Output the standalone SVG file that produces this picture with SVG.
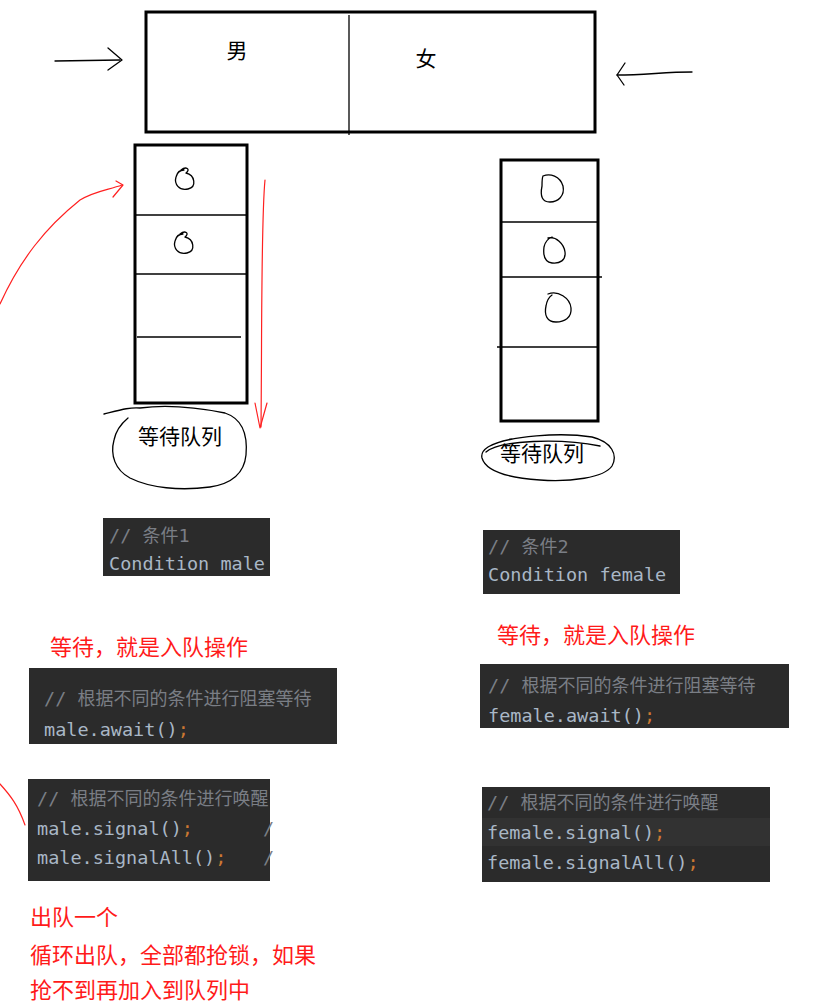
<svg xmlns="http://www.w3.org/2000/svg" width="826" height="1008" viewBox="0 0 826 1008">
<defs>
<style>
.box{fill:#fff;stroke:#000;stroke-width:3}
.thin{fill:none;stroke:#000;stroke-width:1.3;stroke-linecap:round;stroke-linejoin:round}
.red{fill:none;stroke:#ff2020;stroke-width:1.2;stroke-linecap:round;stroke-linejoin:round}
.lbl{font-family:"Noto Sans CJK SC","Microsoft YaHei",sans-serif;font-size:21px;fill:#000}
.rt{font-family:"Noto Sans CJK SC",sans-serif;font-size:22px;fill:#ff1a1a}
.code{fill:#2b2b2b}
.mono{font-family:"DejaVu Sans Mono","Noto Sans CJK SC",monospace;font-size:18.5px;fill:#a9b7c6}
.cm{fill:#7a7e85}
.cj{font-family:"Noto Sans CJK SC",sans-serif;font-size:18px}
.semi{fill:#cc7832}
</style>
</defs>
<rect width="826" height="1008" fill="#fff"/>

<g id="gender-box">
<rect class="box" x="146" y="12" width="449" height="120"/>
<line x1="349" y1="15" x2="349" y2="135" stroke="#000" stroke-width="1.3"/>
<text class="lbl" x="237" y="58" text-anchor="middle">男</text>
<text class="lbl" x="426" y="66" text-anchor="middle">女</text>
</g>

<g id="male-queue">
<rect class="box" x="135" y="145" width="112" height="258"/>
<line x1="135" y1="215" x2="247" y2="215" stroke="#000" stroke-width="1.3"/>
<line x1="135" y1="274" x2="247" y2="274" stroke="#000" stroke-width="1.3"/>
<line x1="137" y1="337" x2="241" y2="337" stroke="#000" stroke-width="1.3"/>
<path class="thin" d="M181,170 C186,166 191,169 186,173 C195,175 197,187 188,189 C179,191 174,184 176,177 C177,173 180,170 184,170"/>
<path class="thin" d="M180,234 C185,230 190,233 185,237 C194,239 196,251 187,253 C178,255 173,248 175,241 C176,237 179,234 183,234"/>
<path class="thin" d="M104,414 C120,410 130,407 140,408 C170,404 200,408 225,413 C240,418 248,432 246,455 C244,475 230,484 210,487 C180,491 150,488 130,478 C115,470 110,455 114,440 C116,430 122,423 128,418"/>
<text class="lbl" x="180" y="444" text-anchor="middle">等待队列</text>
</g>

<g id="female-queue">
<rect class="box" x="501" y="160" width="97" height="261"/>
<line x1="501" y1="222" x2="598" y2="222" stroke="#000" stroke-width="1.3"/>
<line x1="501" y1="277" x2="602" y2="277" stroke="#000" stroke-width="1.3"/>
<line x1="497" y1="347" x2="598" y2="347" stroke="#000" stroke-width="1.3"/>
<path class="thin" d="M543,176 C550,173 560,176 563,186 C565,196 558,202 550,202 C542,202 540,196 542,186 C542,181 542,178 543,176"/>
<path class="thin" d="M548,238 C556,236 564,244 565,252 C566,260 560,264 552,263 C545,262 543,255 544,247 C545,242 547,239 552,237"/>
<path class="thin" d="M548,294 C558,290 570,298 571,308 C572,318 564,322 556,322 C547,322 544,315 546,306 C547,300 549,297 552,295"/>
<path class="thin" d="M490,446 C510,436 560,432 592,437 C612,442 618,455 612,466 C604,478 570,482 540,480 C510,478 486,472 482,458 C480,450 490,443 512,439"/>
<path class="thin" d="M486,452 C500,440 560,438 600,446"/>
<text class="lbl" x="542" y="461" text-anchor="middle">等待队列</text>
</g>

<g id="connectors">
<path class="thin" d="M55,61 L120,60"/>
<path class="thin" d="M108,48 L122,60 L108,70"/>
<path class="thin" d="M692,72 C665,72 645,75 617,75"/>
<path class="thin" d="M625,63 L617,75 L624,85"/>
<path class="red" d="M0,304 C20,260 45,228 80,200 C95,191 108,190 122,185"/>
<path class="red" d="M116,181 L123,185 L113,197"/>
<path class="red" d="M265,180 C261,220 262,330 261,427"/>
<path class="red" d="M255,403 L260,428 L267,403"/>
<path class="red" d="M0,784 C10,795 18,805 25,825"/>
</g>

<g id="cond1">
<rect class="code" x="103" y="518" width="167" height="58"/>
<text class="mono" x="109" y="542"><tspan class="cm">// </tspan><tspan class="cm cj">条件</tspan><tspan class="cm">1</tspan></text>
<text class="mono" x="109" y="570">Condition male</text>
</g>

<g id="cond2">
<rect class="code" x="483" y="530" width="197" height="64"/>
<text class="mono" x="488" y="553"><tspan class="cm">// </tspan><tspan class="cm cj">条件</tspan><tspan class="cm">2</tspan></text>
<text class="mono" x="488" y="581">Condition female</text>
</g>

<g id="await-label-left">
<text class="rt" x="50" y="655">等待，就是入队操作</text>
</g>
<g id="await-label-right">
<text class="rt" x="497" y="643">等待，就是入队操作</text>
</g>

<g id="await-male">
<rect class="code" x="29" y="668" width="308" height="76"/>
<text class="mono" x="44" y="705"><tspan class="cm">// </tspan><tspan class="cm cj">根据不同的条件进行阻塞等待</tspan></text>
<text class="mono" x="44" y="736">male.await()<tspan class="semi">;</tspan></text>
</g>

<g id="await-female">
<rect class="code" x="480" y="664" width="309" height="64"/>
<text class="mono" x="488" y="692"><tspan class="cm">// </tspan><tspan class="cm cj">根据不同的条件进行阻塞等待</tspan></text>
<text class="mono" x="488" y="722">female.await()<tspan class="semi">;</tspan></text>
</g>

<g id="signal-male">
<rect class="code" x="28" y="779" width="242" height="102"/>
<text class="mono" x="37" y="805"><tspan class="cm">// </tspan><tspan class="cm cj">根据不同的条件进行唤醒</tspan></text>
<text class="mono" x="37" y="835">male.signal()<tspan class="semi">;</tspan></text>
<text class="mono" x="37" y="864">male.signalAll()<tspan class="semi">;</tspan></text>
<text class="mono cm" x="263" y="835">/</text>
<text class="mono cm" x="263" y="864">/</text>
</g>

<g id="signal-female">
<rect class="code" x="482" y="787" width="288" height="95"/>
<rect x="482" y="818" width="288" height="28" fill="#323232"/>
<text class="mono" x="487" y="809"><tspan class="cm">// </tspan><tspan class="cm cj">根据不同的条件进行唤醒</tspan></text>
<text class="mono" x="487" y="839">female.signal()<tspan class="semi">;</tspan></text>
<text class="mono" x="487" y="869">female.signalAll()<tspan class="semi">;</tspan></text>
</g>

<g id="signal-notes">
<text class="rt" x="30" y="925">出队一个</text>
<text class="rt" x="30" y="963">循环出队，全部都抢锁，如果</text>
<text class="rt" x="30" y="998">抢不到再加入到队列中</text>
</g>
</svg>
